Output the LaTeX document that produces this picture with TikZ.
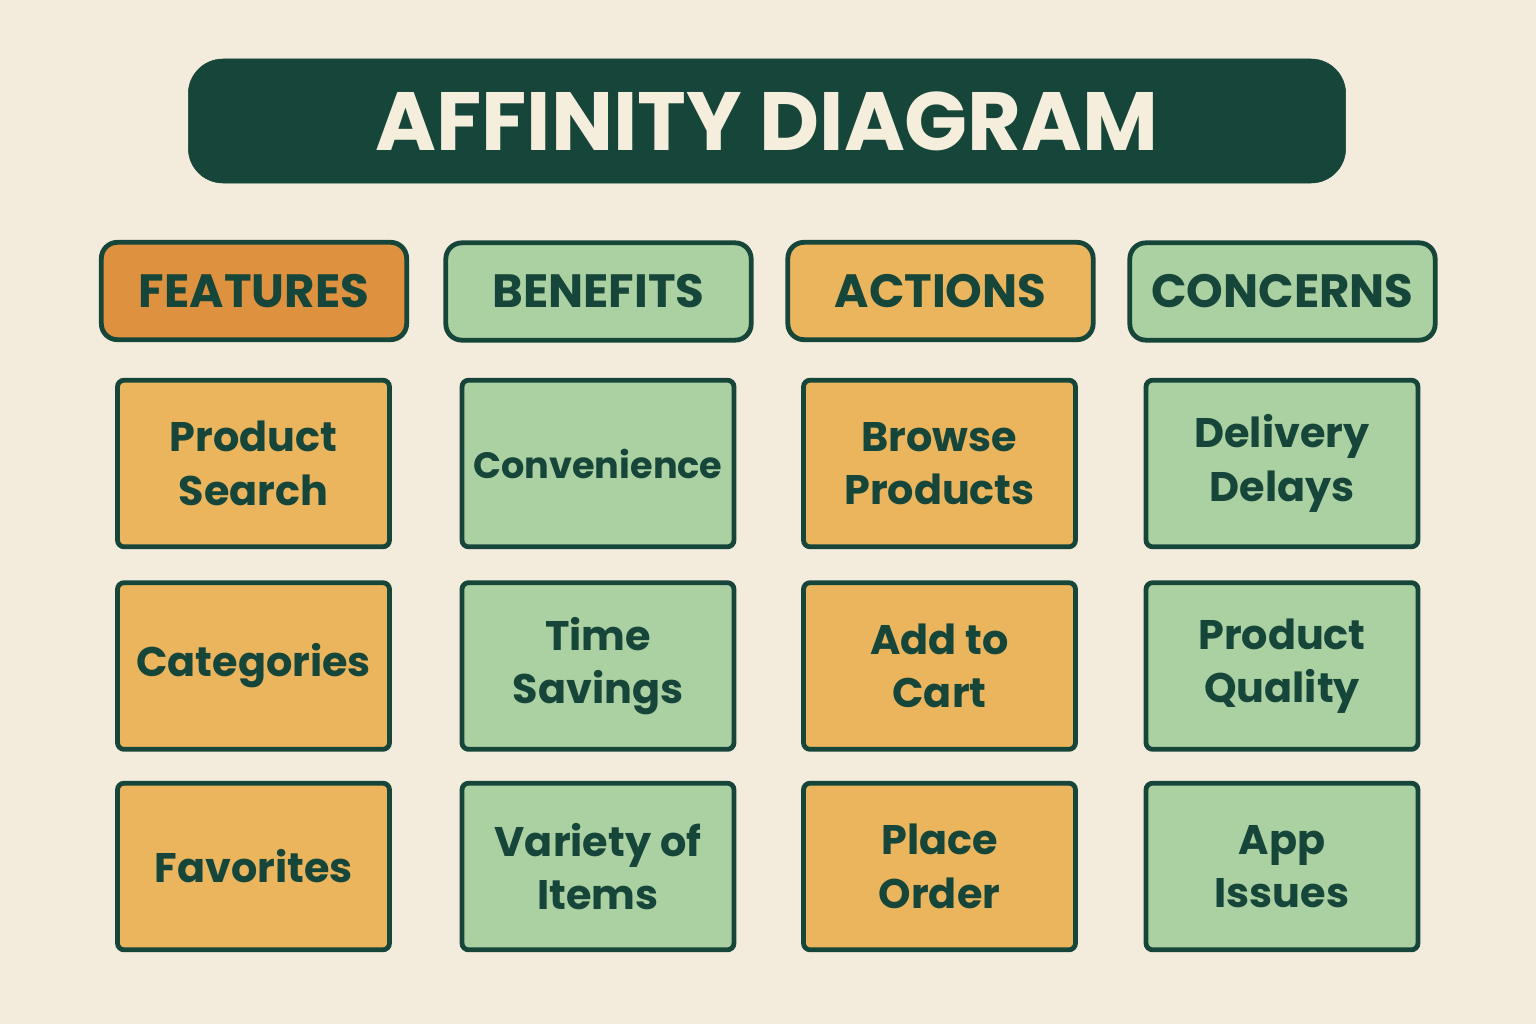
\documentclass[tikz,border=0pt]{standalone}
\usepackage{fontspec}
\setmainfont{Poppins}
\definecolor{bgc}{HTML}{F3EBDB}
\definecolor{dkg}{HTML}{16453A}
\definecolor{orh}{HTML}{DE913E}
\definecolor{orc}{HTML}{EBB55E}
\definecolor{grc}{HTML}{ABD0A2}
\definecolor{cream}{HTML}{F5EEDD}
\tikzset{
  titlebox/.style={fill=dkg, draw=dkg, rounded corners=26pt, minimum width=868pt, minimum height=93pt, inner sep=0pt,
    text=cream, font=\fontsize{62}{62}\selectfont\bfseries},
  headbox/.style={draw=dkg, line width=3.6pt, rounded corners=12pt, minimum width=229pt, minimum height=73pt, inner sep=0pt,
    text=dkg, font=\fontsize{35}{35}\selectfont\bfseries},
  cardbox/.style={draw=dkg, line width=3.6pt, rounded corners=5pt, minimum width=204pt, minimum height=125pt, inner sep=0pt,
    text=dkg, align=center, font=\fontsize{31}{40}\selectfont\bfseries},
  orh/.style={fill=orh}, orc/.style={fill=orc}, grc/.style={fill=grc}
}
\begin{document}
\begin{tikzpicture}[x=0.75pt,y=-0.75pt]
\fill[bgc] (0,0) rectangle (1536,1024);
\useasboundingbox (0,0) rectangle (1536,1024);
\node[titlebox] (title) at (767,121) {AFFINITY DIAGRAM};
\node[headbox,orh] (h1) at (254,291) {FEATURES};
\node[headbox,grc] (h2) at (598.5,291.5) {BENEFITS};
\node[headbox,orc] (h3) at (940.5,291) {ACTIONS};
\node[headbox,grc] (h4) at (1282.5,291.5) {CONCERNS};
\node[cardbox,orc] (c11) at (253.5,463.5) {Product\\Search};
\node[cardbox,orc] (c12) at (253.5,666) {Categories};
\node[cardbox,orc] (c13) at (253.5,866.5) {Favorites};
\node[cardbox,grc,font=\fontsize{27.5}{40}\selectfont\bfseries] (c21) at (598,463.5) {Convenience};
\node[cardbox,grc] (c22) at (598,666) {Time\\Savings};
\node[cardbox,grc] (c23) at (598,866.5) {Variety of\\Items};
\node[cardbox,orc] (c31) at (939.5,463.5) {Browse\\Products};
\node[cardbox,orc] (c32) at (939.5,666) {Add to\\Cart};
\node[cardbox,orc] (c33) at (939.5,866.5) {Place\\Order};
\node[cardbox,grc] (c41) at (1282,463.5) {Delivery\\Delays};
\node[cardbox,grc] (c42) at (1282,666) {Product\\Quality};
\node[cardbox,grc] (c43) at (1282,866.5) {App\\Issues};
\end{tikzpicture}
\end{document}
